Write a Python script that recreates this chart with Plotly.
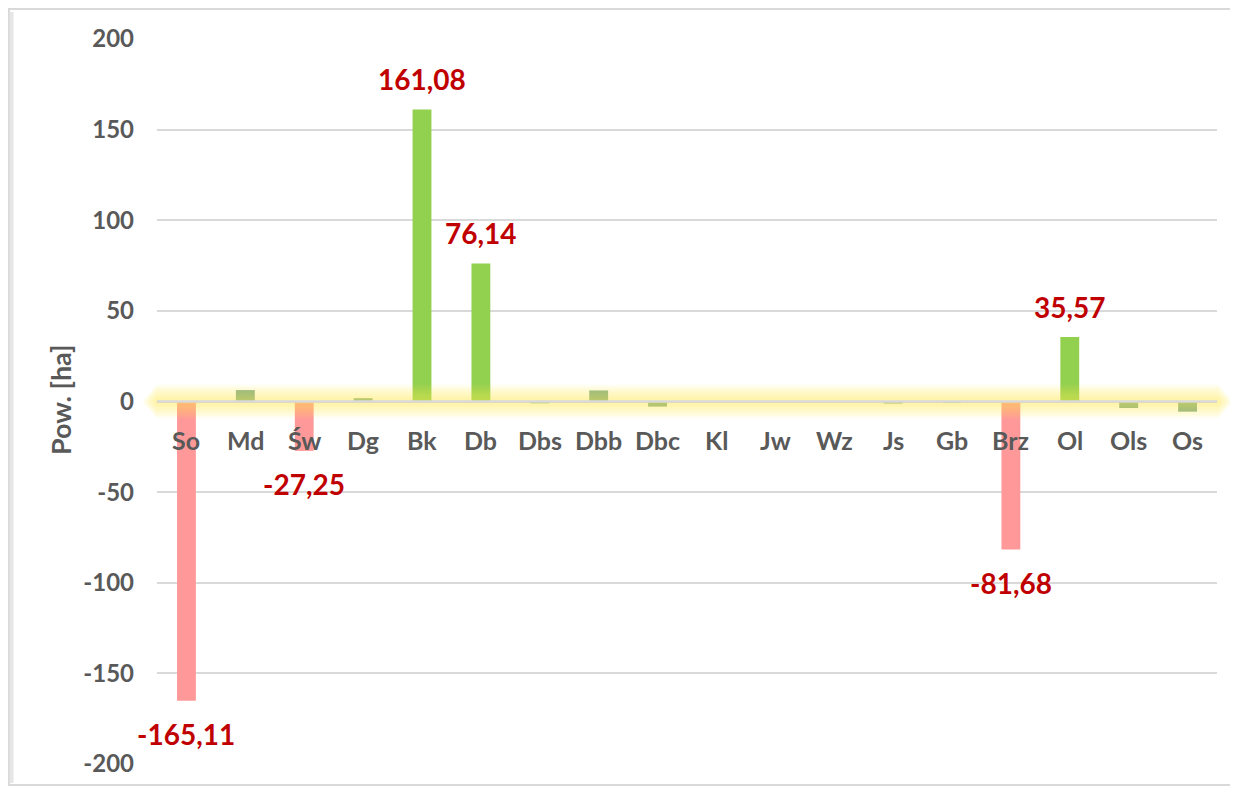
import plotly.graph_objects as go

categories = ["So", "Md", "Św", "Dg", "Bk", "Db", "Dbs", "Dbb", "Dbc", "Kl",
              "Jw", "Wz", "Js", "Gb", "Brz", "Ol", "Ols", "Os"]
values = [-165.11, 6.3, -27.25, 1.8, 161.08, 76.14, -1.0, 6.1, -2.8, 0.0,
          0.0, 0.0, -1.1, -0.5, -81.68, 35.57, -3.6, -5.6]
labelled = ["So", "Św", "Bk", "Db", "Brz", "Ol"]
y_ticks = [-200, -150, -100, -50, 0, 50, 100, 150, 200]

GREEN = "#92D050"
RED = "#FF9999"
SMALL = "#86B08E"
TXT = "#595959"
LBL = "#C00000"
FONT = "Lato"

# page body has an 8px margin: figure occupies x 8..1238, y 8..789 of the window
W, H = 1230, 781
ML, MR, MT, MB = 149, 21, 30, 22
PW, PH = W - ML - MR, H - MT - MB


def px(x):  # window x -> paper x
    return (x - 8 - ML) / PW


def py(y):  # window y -> paper y
    return (H - MB - (y - 8)) / PH


colors = []
for c, v in zip(categories, values):
    if c in labelled:
        colors.append(GREEN if v > 0 else RED)
    else:
        colors.append(SMALL)

fig = go.Figure()
fig.add_trace(go.Bar(x=categories, y=values, marker=dict(color=colors, line=dict(width=0)),
                     width=0.32, hoverinfo="x+y"))

shapes = []
# soft glow along zero line (drawn over the bars, semi-transparent)
n = 12
for i in range(n):
    h = 9.5 - i * 0.75
    ext = 1 + i * 1.2
    shapes.append(dict(type="rect", xref="paper", yref="y",
                       x0=px(157 - ext), x1=px(1218 + ext), y0=-h, y1=h,
                       fillcolor="#FFF04A", opacity=0.05, line=dict(width=0), layer="above"))
shapes.append(dict(type="line", xref="paper", yref="y", x0=0, x1=1, y0=0, y1=0,
                   line=dict(color="#D9D9D9", width=2.5), layer="above"))
# outer frame with soft shadow
shapes.append(dict(type="rect", xref="paper", yref="paper", x0=px(9), x1=px(1235),
                   y0=py(787), y1=py(9), line=dict(color="#D9D9D9", width=2),
                   fillcolor="rgba(0,0,0,0)", layer="below"))
shapes.append(dict(type="line", xref="paper", yref="paper", x0=px(11.5), x1=px(11.5),
                   y0=py(785), y1=py(12), line=dict(color="#E6E6E6", width=4), layer="below"))
shapes.append(dict(type="line", xref="paper", yref="paper", x0=px(1233.5), x1=px(1233.5),
                   y0=py(785), y1=py(20), line=dict(color="#EBEBEB", width=3), layer="below"))

annotations = []
# category labels next to zero line
for c in categories:
    annotations.append(dict(x=c, y=0, xref="x", yref="y", text=f"<b>{c}</b>",
                            showarrow=False, yshift=-38,
                            font=dict(family=FONT, size=25, color=TXT)))
# data labels
for c, v in zip(categories, values):
    if c in labelled:
        txt = f"{v:.2f}".replace(".", ",")
        annotations.append(dict(x=c, y=v, xref="x", yref="y", text=f"<b>{txt}</b>",
                                showarrow=False, yshift=30 if v > 0 else -33,
                                font=dict(family=FONT, size=28, color=LBL)))
annotations.append(dict(x=px(60), y=py(401), xref="paper", yref="paper",
                        xanchor="center", yanchor="middle",
                        text="<b>Pow. [ha]</b>", textangle=-90, showarrow=False,
                        font=dict(family=FONT, size=27, color=TXT)))

fig.update_layout(
    width=W, height=H,
    margin=dict(l=ML, r=MR, t=MT, b=MB),
    paper_bgcolor="white", plot_bgcolor="white",
    showlegend=False,
    shapes=shapes, annotations=annotations,
    xaxis=dict(showticklabels=False, showgrid=False, zeroline=False, showline=False,
               ticks="", type="category", categoryorder="array", categoryarray=categories,
               range=[-0.5, len(categories) - 0.5], autorange=False),
    yaxis=dict(range=[-200.5, 200.5], tickvals=y_ticks, ticktext=[f"<b>{t}</b>" for t in y_ticks],
               showgrid=True, gridcolor="#D9D9D9", gridwidth=1.5, zeroline=False,
               showline=False, ticks="", ticklabelstandoff=22,
               tickfont=dict(family=FONT, size=24, color=TXT)),
)
fig.write_html("out.html")
